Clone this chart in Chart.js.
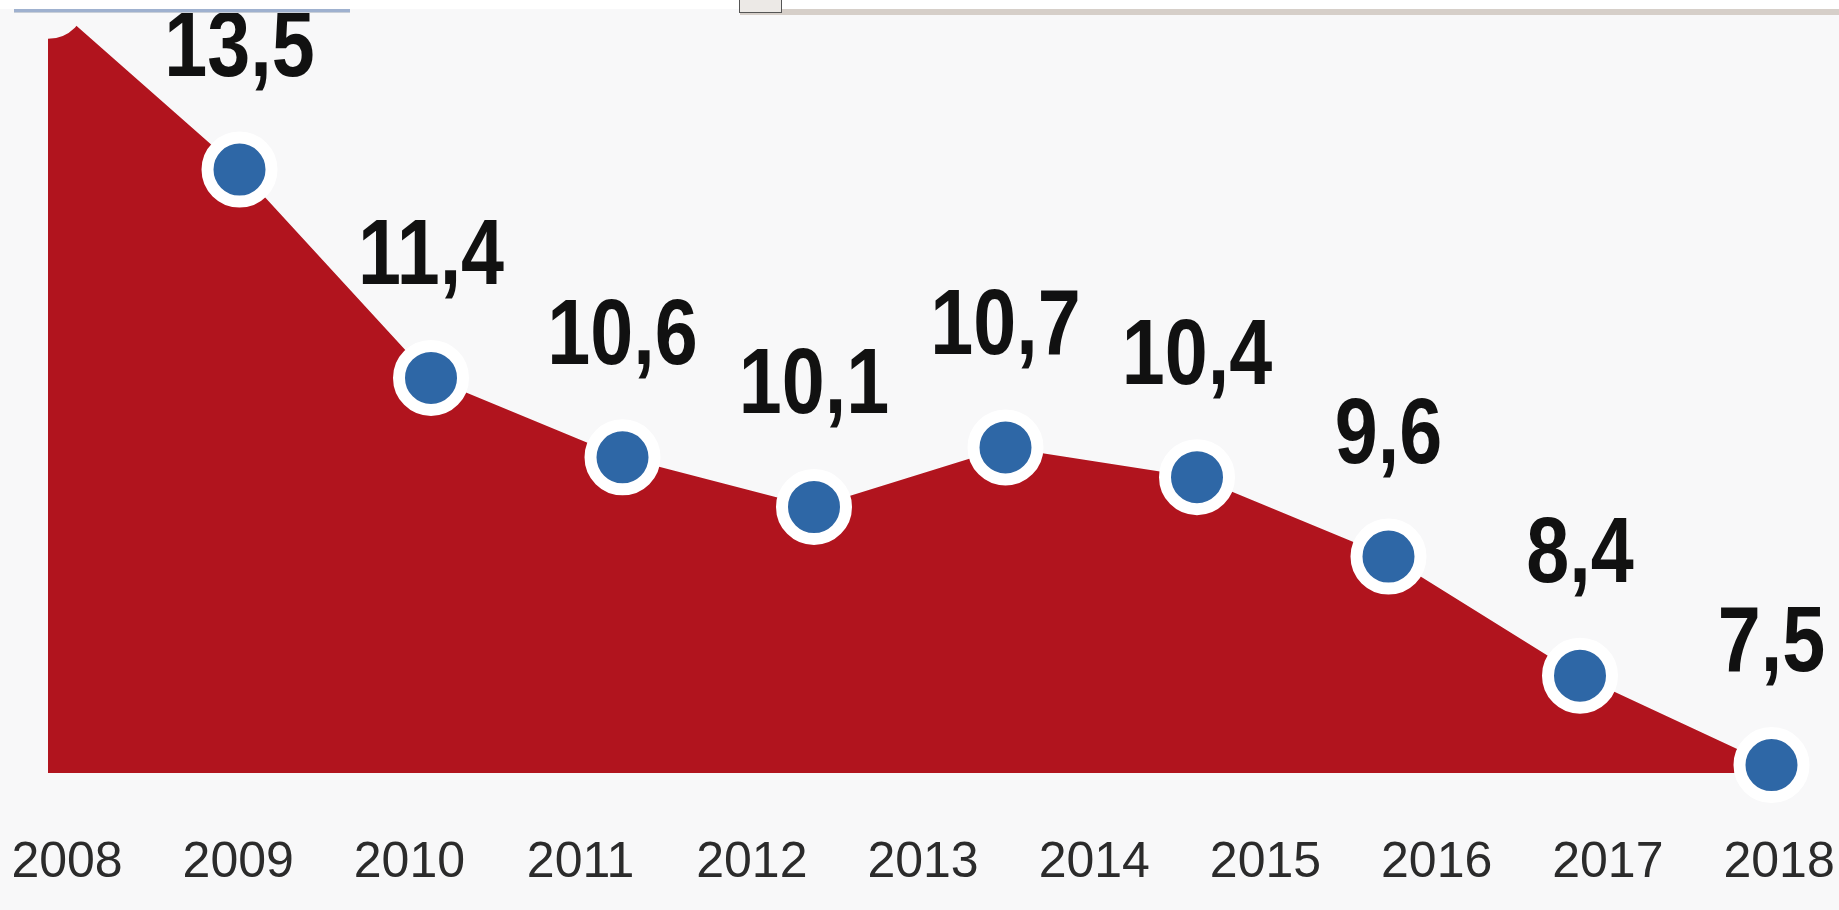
<!DOCTYPE html>
<html>
<head>
<meta charset="utf-8">
<script src="https://cdn.jsdelivr.net/npm/chart.js@4.4.1/dist/chart.umd.min.js"></script>
<style>
  html, body { margin: 0; padding: 0; background: #f8f8f9; overflow: hidden; }
  #wrap { position: relative; width: 1839px; height: 910px; }
  #chart { position: absolute; left: 0; top: 0; }
  .bar { position: absolute; }
</style>
</head>
<body>
<div id="wrap">
  <canvas id="chart" width="1839" height="910"></canvas>
  <div class="bar" style="left:0;top:0;width:1839px;height:9px;background:#ffffff"></div>
  <div class="bar" style="left:14px;top:9px;width:336px;height:3px;background:#9fb1cf;border-bottom:1px solid #c9cfd8"></div>
  <div class="bar" style="left:740px;top:9px;width:1099px;height:6px;background:#d6cfc9"></div>
  <div class="bar" style="left:739px;top:0;width:41px;height:12px;border:1px solid #555;border-top:none;background:#ece9e6"></div>
</div>
<script>
// tick labels along the bottom
const years = ['2008', '2009', '2010', '2011', '2012', '2013', '2014', '2015', '2016', '2017', '2018'];
// one point per year, first one is cut off at the top of the picture
const pointIndex = [0, 1, 2, 3, 4, 5, 6, 7, 8, 9];
const rates = [15.2, 13.5, 11.4, 10.6, 10.1, 10.7, 10.4, 9.6, 8.4, 7.5];

const bg = '#f8f8f9';
const red = '#b1141e';
const blue = '#2e67a6';

// value labels: Helvetica-like bold, squeezed a bit like in the original
const valueLabels = {
    id: 'valueLabels',
    afterDatasetsDraw(chart) {
        const ctx = chart.ctx;
        const meta = chart.getDatasetMeta(0);
        ctx.save();
        ctx.fillStyle = '#111';
        ctx.textAlign = 'center';
        ctx.textBaseline = 'middle';
        ctx.font = 'bold 92px "Liberation Sans", Arial, sans-serif';
        meta.data.forEach((pt, i) => {
            const txt = rates[i].toFixed(1).replace('.', ',');
            ctx.save();
            ctx.translate(pt.x, pt.y - 119);
            ctx.scale(0.84, 1);
            ctx.fillText(txt, 0, 0);
            ctx.restore();
        });
        ctx.restore();
    }
};

new Chart(document.getElementById('chart'), {
    type: 'line',
    data: {
        datasets: [{
            data: pointIndex.map((x, i) => ({ x: x, y: rates[i] })),
            xAxisID: 'x',
            yAxisID: 'y',
            fill: 'start',
            backgroundColor: red,
            borderColor: red,
            borderWidth: 0,
            tension: 0,
            clip: false,
            pointRadius: 32,
            pointBorderWidth: 12,
            pointBorderColor: pointIndex.map(i => i === 0 ? bg : '#ffffff'),
            pointBackgroundColor: pointIndex.map(i => i === 0 ? bg : blue)
        }]
    },
    options: {
        responsive: false,
        animation: false,
        events: [],
        layout: { padding: 0, autoPadding: false },
        plugins: { legend: { display: false }, tooltip: { enabled: false } },
        scales: {
            x: { type: 'linear', display: false, min: -0.2507, max: 9.3525 },
            xl: {
                type: 'linear',
                position: 'bottom',
                min: -0.3914,
                max: 10.350,
                afterFit: s => { s.height = 137; },
                border: { display: false },
                grid: { drawOnChartArea: false, color: 'transparent', tickColor: 'transparent', tickLength: 60 },
                ticks: {
                    stepSize: 1,
                    includeBounds: false,
                    autoSkip: false,
                    maxRotation: 0,
                    padding: 0,
                    color: '#2b2b2b',
                    font: { family: '"Liberation Sans", Arial, sans-serif', size: 50 },
                    callback: v => Number.isInteger(v) ? years[v] : ''
                }
            },
            y: { type: 'linear', display: false, min: 7.42, max: 15.208 }
        }
    },
    plugins: [valueLabels]
});
</script>
</body>
</html>
